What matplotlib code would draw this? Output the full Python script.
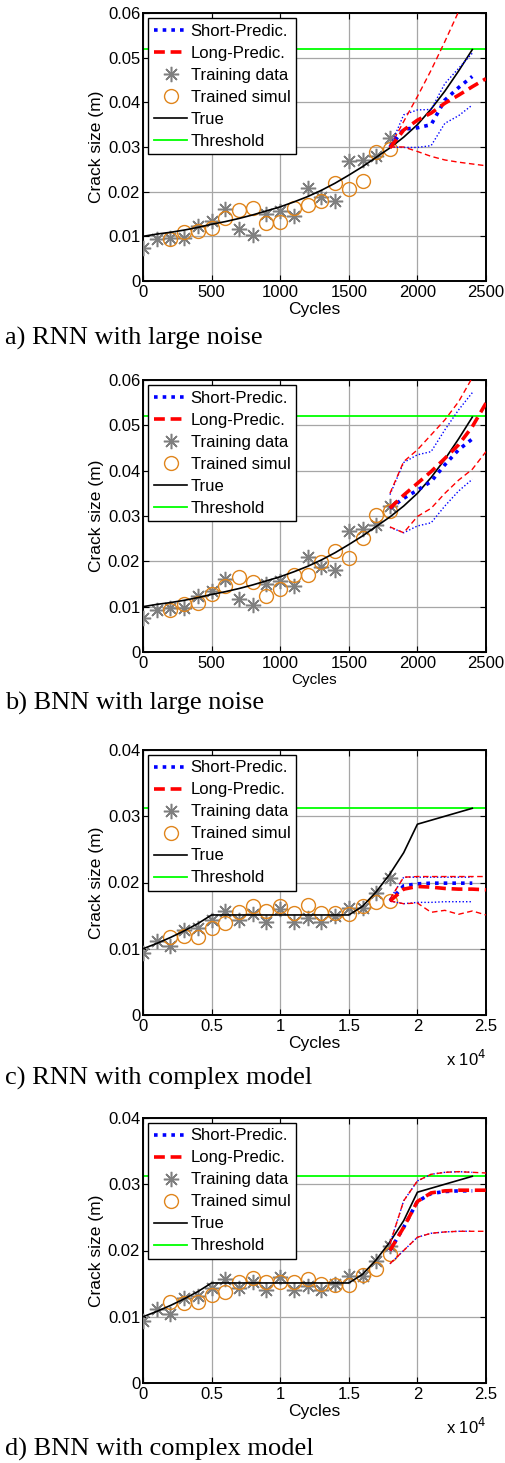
import matplotlib.pyplot as plt
from matplotlib.ticker import FuncFormatter

plt.rcParams['font.family'] = ['Liberation Sans', 'DejaVu Sans']

# ---- panels a/b : large noise (cycles 0..2500) ----
cyc_train_ab = [0, 100, 200, 300, 400, 500, 600, 700, 800, 900, 1000,
                1100, 1200, 1300, 1400, 1500, 1600, 1700, 1800]
train_ab = [0.0074, 0.0093, 0.0096, 0.0097, 0.0123, 0.0134, 0.0161, 0.0116,
            0.0104, 0.0149, 0.0157, 0.0146, 0.0209, 0.0187, 0.0180, 0.0268,
            0.0271, 0.0280, 0.0321]

cyc_sim_ab = [200, 300, 400, 500, 600, 700, 800, 900, 1000,
              1100, 1200, 1300, 1400, 1500, 1600, 1700, 1800]
sim_a = [0.0093, 0.0110, 0.0112, 0.0119, 0.0140, 0.0160, 0.0163, 0.0130, 0.0133,
         0.0164, 0.0171, 0.0180, 0.0220, 0.0205, 0.0225, 0.0289, 0.0295]
sim_b = [0.0093, 0.0105, 0.0109, 0.0127, 0.0146, 0.0166, 0.0155, 0.0124, 0.0140,
         0.0169, 0.0169, 0.0199, 0.0222, 0.0208, 0.0252, 0.0303, 0.0311]

cyc_true_ab = [0, 100, 200, 300, 400, 500, 600, 700, 800, 900, 1000, 1100, 1200,
               1300, 1400, 1500, 1600, 1700, 1800, 1900, 2000, 2100, 2200, 2300, 2400]
true_ab = [0.0100, 0.0105, 0.0109, 0.0114, 0.0120, 0.0127, 0.0133, 0.0140, 0.0148,
           0.0157, 0.0166, 0.0177, 0.0189, 0.0203, 0.0219, 0.0237, 0.0256, 0.0277,
           0.0298, 0.0322, 0.0350, 0.0385, 0.0425, 0.0470, 0.0518]
thr_ab = 0.052

cyc_short_ab = [1800, 1900, 2000, 2100, 2200, 2300, 2400]
cyc_long_ab = [1800, 1900, 2000, 2100, 2200, 2300, 2400, 2500]

short_a = [0.0300, 0.0340, 0.0343, 0.0350, 0.0405, 0.0433, 0.0458]
short_a_hi = [0.0300, 0.0372, 0.0383, 0.0384, 0.0442, 0.0476, 0.0510]
short_a_lo = [0.0300, 0.0299, 0.0299, 0.0303, 0.0353, 0.0370, 0.0394]
long_a = [0.0298, 0.0338, 0.0360, 0.0376, 0.0398, 0.0416, 0.0435, 0.0453]
long_a_hi = [0.0300, 0.0357, 0.0413, 0.0472, 0.0536, 0.0603, 0.0670, 0.0740]
long_a_lo = [0.0300, 0.0300, 0.0290, 0.0279, 0.0271, 0.0266, 0.0262, 0.0258]

short_b = [0.0317, 0.0339, 0.0357, 0.0376, 0.0413, 0.0446, 0.0470]
short_b_hi = [0.0347, 0.0418, 0.0435, 0.0442, 0.0490, 0.0534, 0.0572]
short_b_lo = [0.0275, 0.0263, 0.0278, 0.0285, 0.0322, 0.0355, 0.0381]
long_b = [0.0317, 0.0346, 0.0372, 0.0398, 0.0427, 0.0457, 0.0497, 0.0549]
long_b_hi = [0.0350, 0.0420, 0.0446, 0.0479, 0.0512, 0.0552, 0.0605, 0.0660]
long_b_lo = [0.0276, 0.0263, 0.0299, 0.0317, 0.0350, 0.0379, 0.0403, 0.0442]

# ---- panels c/d : complex model (cycles 0..25000) ----
cyc_train_cd = [0, 1000, 2000, 3000, 4000, 5000, 6000, 7000, 8000, 9000, 10000,
                11000, 12000, 13000, 14000, 15000, 16000, 17000, 18000]
train_cd = [0.0093, 0.0111, 0.0104, 0.0128, 0.0132, 0.0143, 0.0157, 0.0144, 0.0153,
            0.0141, 0.0160, 0.0141, 0.0146, 0.0141, 0.0149, 0.0161, 0.0161, 0.0184,
            0.0207]

cyc_sim_cd = [2000, 3000, 4000, 5000, 6000, 7000, 8000, 9000, 10000,
              11000, 12000, 13000, 14000, 15000, 16000, 17000, 18000]
sim_c = [0.0117, 0.0119, 0.0118, 0.0132, 0.0139, 0.0156, 0.0165, 0.0157, 0.0164,
         0.0154, 0.0166, 0.0154, 0.0154, 0.0152, 0.0164, 0.0170, 0.0172]
sim_d = [0.0123, 0.0121, 0.0123, 0.0133, 0.0138, 0.0153, 0.0158, 0.0153, 0.0153,
         0.0153, 0.0157, 0.0149, 0.0148, 0.0148, 0.0163, 0.0172, 0.0194]

cyc_true_cd = [0, 1000, 2000, 3000, 4000, 5000, 15000, 16000, 17000, 18000, 19000,
               20000, 24000]
true_cd = [0.0100, 0.0108, 0.0117, 0.0127, 0.0138, 0.0151, 0.0151, 0.0164, 0.0186,
           0.0213, 0.0245, 0.0288, 0.0312]
thr_cd = 0.0312

cyc_short_cd = [18000, 19000, 20000, 21000, 22000, 23000, 24000]
cyc_long_cd = [18000, 19000, 20000, 21000, 22000, 23000, 24000, 25000]

short_c = [0.0172, 0.0195, 0.0198, 0.0199, 0.0199, 0.0199, 0.0199]
short_c_hi = [0.0175, 0.0208, 0.0208, 0.0208, 0.0208, 0.0208, 0.0208]
short_c_lo = [0.0172, 0.0168, 0.0170, 0.0170, 0.0171, 0.0171, 0.0171]
long_c = [0.0172, 0.0190, 0.0194, 0.0193, 0.0191, 0.0190, 0.0190, 0.0189]
long_c_hi = [0.0175, 0.0208, 0.0209, 0.0209, 0.0209, 0.0209, 0.0209, 0.0209]
long_c_lo = [0.0172, 0.0168, 0.0169, 0.0155, 0.0158, 0.0152, 0.0157, 0.0151]

short_d = [0.0200, 0.0235, 0.0274, 0.0286, 0.0289, 0.0290, 0.0290]
short_d_hi = [0.0210, 0.0275, 0.0305, 0.0315, 0.0318, 0.0319, 0.0318]
short_d_lo = [0.0180, 0.0200, 0.0220, 0.0226, 0.0228, 0.0229, 0.0229]
long_d = [0.0200, 0.0235, 0.0274, 0.0287, 0.0290, 0.0291, 0.0291, 0.0291]
long_d_hi = [0.0210, 0.0275, 0.0305, 0.0315, 0.0318, 0.0319, 0.0318, 0.0317]
long_d_lo = [0.0180, 0.0200, 0.0220, 0.0226, 0.0228, 0.0229, 0.0229, 0.0229]

yticks_ab = [0, 0.01, 0.02, 0.03, 0.04, 0.05, 0.06]
yticks_cd = [0, 0.01, 0.02, 0.03, 0.04]
xticks_ab = [0, 500, 1000, 1500, 2000, 2500]
xticks_cd = [0, 5000, 10000, 15000, 20000, 25000]

captions = ['a) RNN with large noise', 'b) BNN with large noise',
            'c) RNN with complex model', 'd) BNN with complex model']

W, H = 506, 1463
fig = plt.figure(figsize=(W / 100, H / 100), dpi=100)

orange = '#e0851c'
star = (8, 2, 0)


def panel(box, cyc_tr, tr, cyc_sim, sim, cyc_true, tru, thr, xticks, yticks,
          cs, s, s_hi, s_lo, cl, l, l_hi, l_lo, xlab_size, sci):
    left, top, right, bottom = box
    ax = fig.add_axes([left / W, 1 - bottom / H, (right - left) / W, (bottom - top) / H])
    ax.axhline(thr, color='#00ff00', lw=1.3, zorder=2)
    ax.plot(cyc_tr, tr, ls='none', marker=star, ms=11, mec='#7f7f7f', mew=1.1, zorder=3)
    ax.plot(cyc_sim, sim, ls='none', marker='o', ms=10, mfc='none', mec=orange, mew=1.0,
            zorder=3)
    ax.plot(cyc_true, tru, color='k', lw=1.2, zorder=4)
    ax.plot(cs, s_hi, color='b', lw=1.0, ls=(0, (1, 1.5)), zorder=5)
    ax.plot(cs, s_lo, color='b', lw=1.0, ls=(0, (1, 1.5)), zorder=5)
    ax.plot(cl, l_hi, color='r', lw=1.0, ls=(0, (4, 2.5)), zorder=5)
    ax.plot(cl, l_lo, color='r', lw=1.0, ls=(0, (4, 2.5)), zorder=5)
    ax.plot(cs, s, color='b', lw=2.6, ls=(0, (1, 1.4)), zorder=6)
    ax.plot(cl, l, color='r', lw=2.6, ls=(0, (3, 1.6)), zorder=6)

    # legend proxies
    h1, = ax.plot([], [], color='b', lw=2.6, ls=(0, (1, 1.4)))
    h2, = ax.plot([], [], color='r', lw=2.6, ls=(0, (3, 1.6)))
    h3, = ax.plot([], [], ls='none', marker=star, ms=11, mec='#7f7f7f', mew=1.1)
    h4, = ax.plot([], [], ls='none', marker='o', ms=10, mfc='none', mec=orange, mew=1.0)
    h5, = ax.plot([], [], color='k', lw=1.2)
    h6, = ax.plot([], [], color='#00ff00', lw=1.3)
    leg = ax.legend([h1, h2, h3, h4, h5, h6],
                    ['Short-Predic.', 'Long-Predic.', 'Training data', 'Trained simul',
                     'True', 'Threshold'],
                    loc='upper left', bbox_to_anchor=(0.005, 0.995), fontsize=12,
                    handlelength=2.0, handletextpad=0.2, labelspacing=0.42,
                    borderpad=0.35, borderaxespad=0.2, fancybox=False, framealpha=1)
    leg.get_frame().set_edgecolor('k')
    leg.get_frame().set_linewidth(1.0)
    leg.set_zorder(10)

    ax.set_xlim(xticks[0], xticks[-1])
    ax.set_ylim(yticks[0], yticks[-1])
    ax.set_xticks(xticks)
    ax.set_yticks(yticks)
    ax.grid(True, color='#a6a6a6', lw=0.9)
    ax.set_axisbelow(True)
    ax.tick_params(direction='in', top=True, right=True, length=4, labelsize=12)
    ax.tick_params(axis='x', pad=3)
    ax.tick_params(axis='y', pad=2)
    for sp in ax.spines.values():
        sp.set_linewidth(1.4)
    ax.yaxis.set_major_formatter(FuncFormatter(lambda v, p: '0' if v == 0 else '%g' % v))
    if sci:
        ax.xaxis.set_major_formatter(FuncFormatter(lambda v, p: '%g' % (v / 1e4)))
        ax.text(1.0, -0.165, r'x 10$^4$', transform=ax.transAxes, ha='right',
                va='center', fontsize=12)
    ax.set_xlabel('Cycles', fontsize=xlab_size, labelpad=1.5)
    ax.set_ylabel('Crack size (m)', fontsize=12.5, labelpad=3)
    return ax


panel((143, 13, 486, 281), cyc_train_ab, train_ab, cyc_sim_ab, sim_a, cyc_true_ab,
      true_ab, thr_ab, xticks_ab, yticks_ab, cyc_short_ab, short_a, short_a_hi,
      short_a_lo, cyc_long_ab, long_a, long_a_hi, long_a_lo, 12.5, False)
panel((143, 380, 486, 652), cyc_train_ab, train_ab, cyc_sim_ab, sim_b, cyc_true_ab,
      true_ab, thr_ab, xticks_ab, yticks_ab, cyc_short_ab, short_b, short_b_hi,
      short_b_lo, cyc_long_ab, long_b, long_b_hi, long_b_lo, 11, False)
panel((143, 750, 486, 1015), cyc_train_cd, train_cd, cyc_sim_cd, sim_c, cyc_true_cd,
      true_cd, thr_cd, xticks_cd, yticks_cd, cyc_short_cd, short_c, short_c_hi,
      short_c_lo, cyc_long_cd, long_c, long_c_hi, long_c_lo, 12.5, True)
panel((143, 1118, 486, 1383), cyc_train_cd, train_cd, cyc_sim_cd, sim_d, cyc_true_cd,
      true_cd, thr_cd, xticks_cd, yticks_cd, cyc_short_cd, short_d, short_d_hi,
      short_d_lo, cyc_long_cd, long_d, long_d_hi, long_d_lo, 12.5, True)

for cap, yc in zip(captions, [338, 703, 1078, 1449]):
    fig.text(5 / W, 1 - yc / H, cap, family=['Liberation Serif', 'DejaVu Serif'],
             fontsize=19, va='center', ha='left')

fig.savefig('out.png', dpi=100)
